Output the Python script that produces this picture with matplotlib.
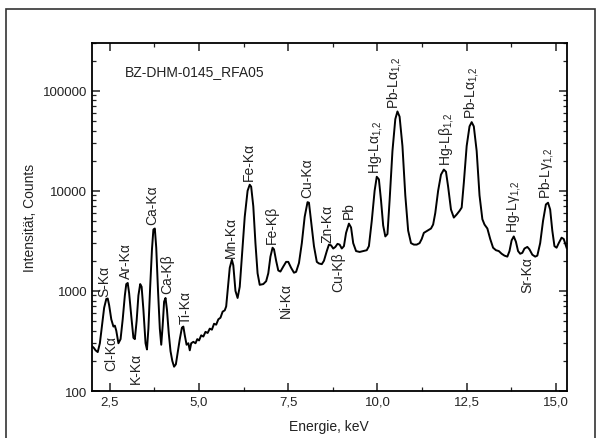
import matplotlib
matplotlib.use("Agg")
import matplotlib.pyplot as plt
from matplotlib.ticker import FuncFormatter, FixedLocator, LogLocator
from matplotlib.patches import Rectangle

plt.rcParams["font.family"] = ["Liberation Sans", "DejaVu Sans"]
plt.rcParams["mathtext.fontset"] = "custom"
plt.rcParams["mathtext.rm"] = "Liberation Sans"
plt.rcParams["mathtext.it"] = "Liberation Sans:italic"

# spectrum (energy in keV, counts)
energy = [
    2.00, 2.05, 2.10, 2.16, 2.22, 2.28, 2.34, 2.40, 2.44, 2.48, 2.54, 2.60, 2.64, 2.68,
    2.74, 2.80, 2.86, 2.92, 2.96, 3.00, 3.04, 3.10, 3.16, 3.20, 3.25, 3.30, 3.35, 3.39,
    3.44, 3.50, 3.54, 3.58, 3.63, 3.68, 3.72, 3.76, 3.80, 3.85, 3.90, 3.94, 3.98, 4.02,
    4.06, 4.10, 4.15, 4.20, 4.25, 4.30, 4.35, 4.40, 4.46, 4.52, 4.56, 4.60, 4.65, 4.70,
    4.74, 4.78, 4.84, 4.90, 4.95, 5.00, 5.06, 5.12, 5.18, 5.24, 5.30, 5.36, 5.42, 5.48,
    5.54, 5.60, 5.66, 5.72, 5.76, 5.80, 5.86, 5.92, 5.96, 6.02, 6.08, 6.14, 6.20, 6.28,
    6.36, 6.42, 6.46, 6.52, 6.58, 6.64, 6.70, 6.80, 6.88, 6.94, 7.00, 7.06, 7.10, 7.16,
    7.22, 7.28, 7.36, 7.44, 7.50, 7.58, 7.66, 7.72, 7.80, 7.88, 7.96, 8.04, 8.08, 8.14,
    8.22, 8.30, 8.36, 8.44, 8.50, 8.58, 8.64, 8.70, 8.76, 8.82, 8.88, 8.94, 9.00, 9.06,
    9.12, 9.20, 9.26, 9.32, 9.40, 9.50, 9.60, 9.70, 9.76, 9.84, 9.92, 9.98, 10.04, 10.10,
    10.16, 10.22, 10.28, 10.34, 10.42, 10.50, 10.56, 10.62, 10.70, 10.78, 10.86, 10.94,
    11.02, 11.10, 11.18, 11.24, 11.30, 11.40, 11.50, 11.56, 11.62, 11.70, 11.78, 11.86,
    11.92, 11.98, 12.06, 12.14, 12.22, 12.30, 12.36, 12.42, 12.50, 12.58, 12.64, 12.70,
    12.78, 12.86, 12.94, 13.00, 13.08, 13.16, 13.24, 13.32, 13.40, 13.48, 13.56, 13.64,
    13.70, 13.76, 13.82, 13.88, 13.94, 14.00, 14.06, 14.12, 14.20, 14.26, 14.34, 14.42,
    14.48, 14.56, 14.64, 14.72, 14.78, 14.84, 14.90, 14.96, 15.02, 15.08, 15.16, 15.22,
    15.30,
]
counts = [
    280, 270, 255, 245, 300, 450, 680, 830, 840, 720, 520, 440, 450, 400,
    300, 330, 520, 900, 1170, 1200, 950, 560, 340, 330, 500, 900, 1170, 1100,
    650, 300, 260, 420, 1100, 2600, 4100, 4200, 2700, 1000, 420, 290, 450, 780,
    850, 650, 380, 250, 200, 175, 185, 240, 330, 430, 440, 360, 290, 300,
    255, 300, 310, 300, 330, 320, 360, 350, 390, 380, 420, 410, 470, 460,
    520, 540, 620, 640, 700, 1000, 1700, 2050, 1800, 1000, 850, 1100, 2200, 5500,
    10000, 11500, 11000, 7000, 3000, 1500, 1150, 1170, 1250, 1500, 2200, 2700, 2600, 2000,
    1600, 1560, 1750, 1950, 1950, 1700, 1520, 1550, 1900, 3000, 5500, 7700, 7600, 5000,
    2800, 1950, 1880, 1850, 2000, 2500, 2900, 2850, 2650, 2750, 2950, 2900, 2650, 2800,
    3800, 4700, 4300, 3000, 2500, 2450, 2500, 2550, 2800, 5000, 10000, 13800, 13000, 8000,
    4500, 3500, 3700, 8000, 25000, 52000, 62000, 55000, 28000, 9000, 4000, 3000,
    2900, 2900, 3000, 3300, 3800, 4000, 4200, 4600, 6000, 10000, 14500, 16300,
    15500, 11000, 6500, 5400, 5800, 6300, 6800, 12000, 28000, 44000, 48500, 44000,
    25000, 9000, 5200, 4600, 4200, 3300, 2700, 2550, 2500, 2350, 2250, 2200,
    2500, 3200, 3500, 3100, 2500, 2350, 2400, 2650, 2750, 2600, 2300, 2200,
    2250, 3000, 5000, 7300, 7600, 6500, 4000, 2800, 2700, 3000, 3400, 3300,
    2700,
]

# peak labels
label_text = [
    "S-Kα", "Cl-Kα", "Ar-Kα", "K-Kα", "Ca-Kα", "Ca-Kβ", "Ti-Kα", "Mn-Kα", "Fe-Kα",
    "Fe-Kβ", "Ni-Kα", "Cu-Kα", "Zn-Kα", "Cu-Kβ", "Pb",
    "Hg-Lα$_{1{,}2}$", "Pb-Lα$_{1{,}2}$", "Hg-Lβ$_{1{,}2}$", "Pb-Lα$_{1{,}2}$",
    "Hg-Lγ$_{1{,}2}$", "Sr-Kα", "Pb-Lγ$_{1{,}2}$",
]
label_energy = [2.35, 2.53, 2.96, 3.23, 3.69, 4.11, 4.63, 5.88, 6.40,
                7.05, 7.43, 8.03, 8.61, 8.90, 9.20,
                9.95, 10.49, 11.94, 12.64, 13.84, 14.20, 14.74]
label_counts = [880, 360, 1340, 248, 4640, 950, 475, 2200, 12900,
                3000, 1220, 8600, 3100, 2470, 5400,
                15000, 67000, 18000, 53000, 3900, 2200, 8500]
label_below = [False, True, False, True, False, False, False, False, False,
               False, True, False, False, True, False,
               False, False, False, False, False, True, False]

fig = plt.figure(figsize=(6.03, 4.39), dpi=100)
ax = fig.add_axes([0.1526, 0.107, 0.787, 0.793])

ax.plot(energy, counts, color="black", lw=1.4)

for txt, e, c, below in zip(label_text, label_energy, label_counts, label_below):
    ax.text(e, c, txt, rotation=90, ha="center", va="top" if below else "bottom",
            fontsize=10, color="#222222")

ax.text(0.07, 0.92, "BZ-DHM-0145_RFA05", transform=ax.transAxes,
        fontsize=10, va="center", ha="left", color="#222222")

ax.set_yscale("log")
ax.set_xlim(2.0, 15.3)
ax.set_ylim(100, 300000)

ax.xaxis.set_major_locator(FixedLocator([2.5, 5.0, 7.5, 10.0, 12.5, 15.0]))
ax.xaxis.set_minor_locator(FixedLocator([3.75, 6.25, 8.75, 11.25, 13.75]))
ax.xaxis.set_major_formatter(FuncFormatter(lambda v, p: f"{v:.1f}".replace(".", ",")))
ax.yaxis.set_major_locator(FixedLocator([100, 1000, 10000, 100000]))
ax.yaxis.set_minor_locator(LogLocator(base=10, subs=range(2, 10)))
ax.yaxis.set_major_formatter(FuncFormatter(lambda v, p: f"{int(v)}"))
ax.yaxis.set_minor_formatter(FuncFormatter(lambda v, p: ""))

ax.tick_params(which="both", direction="in", top=True, right=True,
               labelsize=9.5, colors="#222222")
ax.tick_params(which="major", length=6, width=1.1)
ax.tick_params(which="minor", length=3, width=0.9)
for s in ax.spines.values():
    s.set_linewidth(1.3)

ax.set_xlabel("Energie, keV", fontsize=10, color="#222222", labelpad=8)
ax.set_ylabel("Intensität, Counts", fontsize=10, color="#222222", labelpad=4)

# outer frame of the figure
fig.patches.append(Rectangle((6 / 603, -0.1), 589 / 603, 1.1 - 10 / 439,
                             transform=fig.transFigure, fill=False,
                             edgecolor="#333333", lw=1.2))

fig.savefig("out.png", dpi=100)
